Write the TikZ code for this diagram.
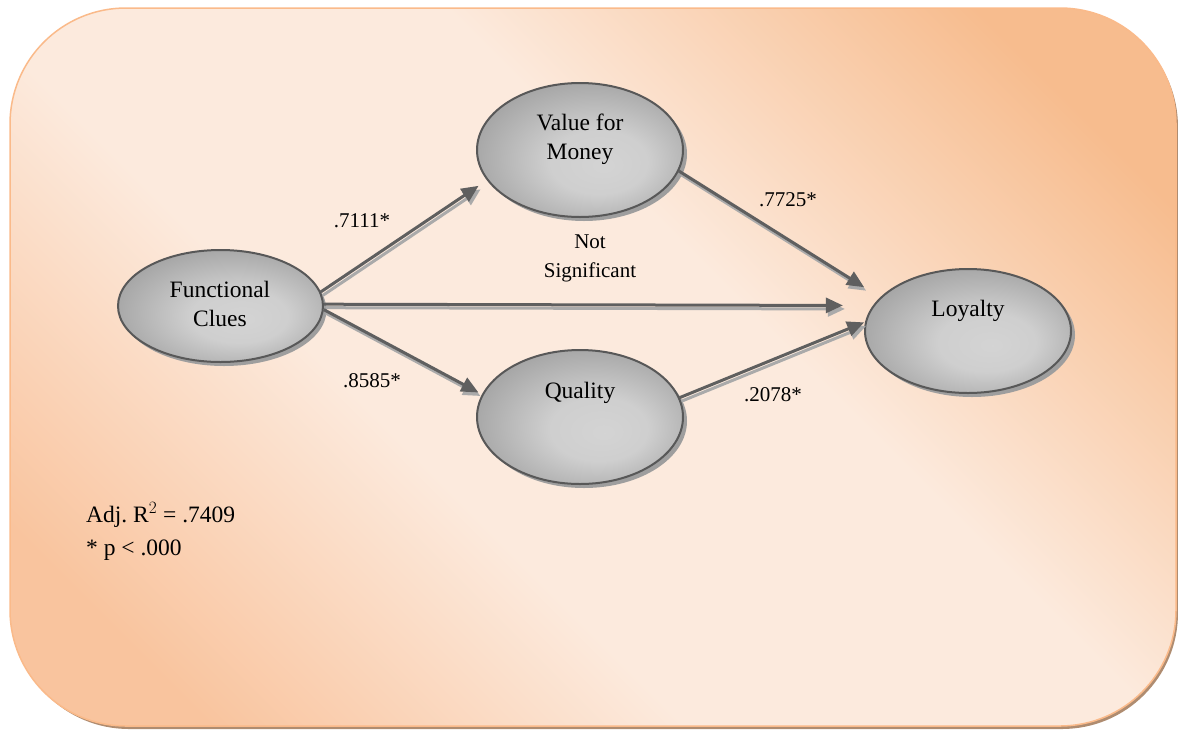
\documentclass[tikz,border=0pt]{standalone}
\usepackage{fontspec}
\setmainfont{Liberation Serif}
\usetikzlibrary{shapes.geometric,arrows.meta}

\definecolor{panelTR}{RGB}{247,188,142}
\definecolor{panelMid}{RGB}{252,234,221}
\definecolor{panelBL}{RGB}{249,196,158}
\definecolor{panelEdge}{RGB}{250,186,138}
\definecolor{panelShadow}{RGB}{175,140,112}
\definecolor{ovalEdge}{RGB}{88,88,88}
\definecolor{arrowMain}{RGB}{95,95,95}
\definecolor{arrowShade}{RGB}{170,170,170}

% panel wash: warm corners, pale diagonal band
\pgfdeclareverticalshading{panelshade}{100bp}{%
  color(0bp)=(panelBL); color(22bp)=(panelBL); color(40bp)=(panelMid);
  color(58bp)=(panelMid); color(78bp)=(panelTR); color(100bp)=(panelTR)}

% soft grey shading for the construct ovals
\pgfdeclareradialshading{ovalshade}{\pgfpoint{6bp}{-6bp}}{%
  color(0bp)=(black!17); color(12bp)=(black!19); color(34bp)=(black!40); color(50bp)=(black!56)}

\tikzset{
  construct/.style={ellipse, draw=ovalEdge, line width=2pt, shading=ovalshade,
    inner sep=0pt},
  ovalshadow/.style={ellipse, fill=black!38, draw=none, inner sep=0pt},
  ctext/.style={font=\fontsize{23.5}{29}\selectfont, align=center, inner sep=0pt},
  coef/.style={font=\fontsize{21}{29}\selectfont, align=center, inner sep=0pt},
  pathmain/.style={draw=arrowMain, line width=3pt,
    -{Triangle[length=17pt,width=15pt]}, fill=arrowMain},
  pathshade/.style={draw=arrowShade, line width=3pt,
    -{Triangle[length=17pt,width=15pt]}, fill=arrowShade,
    transform canvas={xshift=2pt,yshift=-3.5pt}},
}

\begin{document}
\begin{tikzpicture}[x=1pt,y=-1pt]
\useasboundingbox (0,0) rectangle (1178,729);

% background panel with its drop shadow
\fill[panelShadow, rounded corners=116pt] (13,11) rectangle (1178,729);
\shade[rounded corners=116pt, shading=panelshade, shading angle=-45]
  (10,8) rectangle (1176,726);
\draw[panelEdge, line width=1.5pt, rounded corners=116pt]
  (10,8) rectangle (1176,726);

% oval shadows
\node[ovalshadow, minimum width=205pt, minimum height=112pt] at (224,310) {};
\node[ovalshadow, minimum width=206pt, minimum height=134pt] at (584,154) {};
\node[ovalshadow, minimum width=206pt, minimum height=134pt] at (584,421) {};
\node[ovalshadow, minimum width=206pt, minimum height=124pt] at (972,335) {};

% constructs
\node[construct, minimum width=205pt, minimum height=112pt] (fc) at (220.5,306) {};
\node[construct, minimum width=206pt, minimum height=134pt] (vm) at (580,150) {};
\node[construct, minimum width=206pt, minimum height=134pt] (q)  at (580,417) {};
\node[construct, minimum width=206pt, minimum height=124pt] (ly) at (968,331) {};

\node[ctext] (fct) at (220,303.5) {Functional\\Clues};
\node[ctext] (vmt) at (580,139) {Value for\\Money};
\node[ctext] (qt)  at (580,393) {Quality};
\node[ctext] (lyt) at (968,311) {Loyalty};

% paths: shadow stroke first, then the main stroke
\foreach \s in {pathshade,pathmain}{
  \draw[\s, shorten >=10pt] (fc.8.8) -- (vm.198);
  \draw[\s, shorten >=30pt] (fc.1.6) -- (ly.165);
  \draw[\s, shorten >=4pt]  (fc.-2.2) -- (q.167.8);
  \draw[\s, shorten >=19pt] (vm.-12) -- (ly.159.8);
  \draw[\s, shorten >=1pt]  (q.11) -- (ly.175.6);
}

% path coefficients
\node[coef] (c1) at (362,221) {.7111*};
\node[coef] (c2) at (372,381) {.8585*};
\node[coef] (c3) at (788,200) {.7725*};
\node[coef] (c4) at (773,395) {.2078*};
\node[coef] (ns) at (590,258.5) {Not\\Significant};

% fit statistics
\node[font=\fontsize{23.5}{33}\selectfont, align=left, anchor=west, inner sep=0pt]
  (fit) at (86,531) {Adj.\ R$^{2}$ = .7409\\* p < .000};
\end{tikzpicture}
\end{document}
